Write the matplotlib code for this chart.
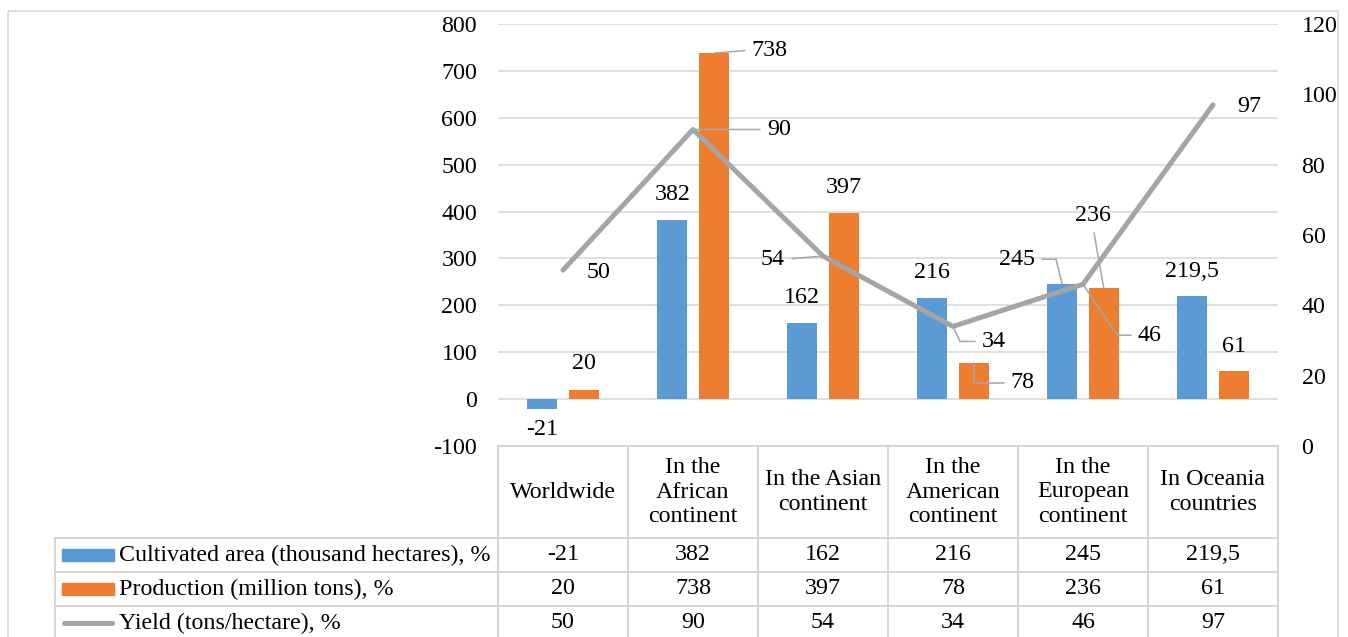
import matplotlib
matplotlib.use("Agg")
import matplotlib.pyplot as plt
import matplotlib.transforms as mtransforms
from matplotlib.patches import Rectangle
from matplotlib.lines import Line2D

plt.rcParams["font.family"] = ["Liberation Serif", "DejaVu Serif"]
plt.rcParams["font.size"] = 17.3
plt.rcParams["axes.unicode_minus"] = False

# data
categories = ["Worldwide", "In the\nAfrican\ncontinent", "In the Asian\ncontinent",
              "In the\nAmerican\ncontinent", "In the\nEuropean\ncontinent", "In Oceania\ncountries"]
series_names = ["Cultivated area (thousand hectares), %",
                "Production (million tons), %",
                "Yield (tons/hectare), %"]
area = [-21, 382, 162, 216, 245, 219.5]
production = [20, 738, 397, 78, 236, 61]
yield_pct = [50, 90, 54, 34, 46, 97]

BLUE = "#5B9BD5"
ORANGE = "#ED7D31"
GRAY = "#A5A5A5"
GRID = "#D9D9D9"
LEADER = "#A6A6A6"

W, H = 1348, 637
FS = 17.3


def fmt(v):
    return f"{v:g}".replace(".", ",")


# label placement (offset pixels, leader style) - layout only
area_lbl = [(0, -21, None), (0, 25, None), (0, 26, None), (0, 25, None),
            (-45, 25, ("angle,angleA=0,angleB=104,rad=0", (1, 0.5))), (0, 25, None)]
prod_lbl = [(0, 26, None), (56, 3, ("arc3", (0, 0.5))), (0, 25, None),
            (49, -20, ("angle,angleA=0,angleB=90,rad=0", (0, 0.5))),
            (-11, 73, ("arc3", (0.5, 0))), (0, 24, None)]
yield_lbl = [(35, -2, None), (86, 0, ("arc3", (0, 0.5))), (-50, -3, ("arc3", (1, 0.5))),
             (41, -15, ("angle,angleA=0,angleB=-65,rad=0", (0, 0.5))),
             (67, -51, ("angle,angleA=0,angleB=-56,rad=0", (0, 0.5))), (36, -2, None)]


def label(axis, x, y, text, spec):
    dx, dy, leader = spec
    kw = dict(textcoords="offset pixels", ha="center", va="center", fontsize=FS)
    if leader is not None:
        style, rel = leader
        kw["arrowprops"] = dict(arrowstyle="-", color=LEADER, lw=1.1,
                                connectionstyle=style, relpos=rel,
                                shrinkA=3, shrinkB=0)
    axis.annotate(text, xy=(x, y), xytext=(dx, dy), **kw)


fig = plt.figure(figsize=(W / 100, H / 100), dpi=100)

# overlay in pixel coords for the frame and data table
tab = fig.add_axes([0, 0, 1, 1])
tab.set_xlim(0, W)
tab.set_ylim(H, 0)
tab.axis("off")

ax = fig.add_axes([498 / W, 1 - 446 / H, 780 / W, (446 - 24) / H])
ax.patch.set_visible(False)
x = list(range(len(categories)))
off, bw = 0.16, 0.235
ax.bar([i - off for i in x], area, bw, color=BLUE, zorder=2)
ax.bar([i + off for i in x], production, bw, color=ORANGE, zorder=2)
ax.set_xlim(-0.5, len(categories) - 0.5)
ax.set_ylim(-100, 800)
ax.set_yticks(range(-100, 801, 100))
ax.set_xticks([])
ax.yaxis.grid(True, color=GRID, lw=1.2)
ax.set_axisbelow(True)
ax.tick_params(axis="y", length=0, pad=15)
for s in ax.spines.values():
    s.set_visible(False)

ax2 = ax.twinx()
ax2.plot(x, yield_pct, color=GRAY, lw=3.6, solid_capstyle="round",
         solid_joinstyle="round", zorder=3)
ax2.set_ylim(0, 120)
ax2.set_yticks(range(0, 121, 20))
ax2.tick_params(axis="y", length=0, pad=17)
for s in ax2.spines.values():
    s.set_visible(False)

for i in x:
    label(ax, i - off, area[i], fmt(area[i]), area_lbl[i])
    label(ax, i + off, production[i], fmt(production[i]), prod_lbl[i])
    label(ax2, i, yield_pct[i], fmt(yield_pct[i]), yield_lbl[i])

# outer chart frame
tab.add_patch(Rectangle((8, 11), 1330, 660, fill=False, edgecolor=GRID, lw=1.2))

# data table
blend = mtransforms.blended_transform_factory(ax.transData, tab.transData)
hdr_top, hdr_bot = 446, 538
row_edges = [538, 572, 606, 640]
lab_left = 55
tcol = "#D0D0D0"
for i in range(len(categories) + 1):
    tab.plot([i - 0.5, i - 0.5], [hdr_top, 645], color=tcol, lw=1.2, transform=blend)
tab.plot([lab_left, lab_left], [hdr_bot, 645], color=tcol, lw=1.2)
tab.plot([-0.5, len(categories) - 0.5], [hdr_top, hdr_top], color=tcol, lw=1.2, transform=blend)
for y in row_edges:
    tab.plot([lab_left, 1278], [y, y], color=tcol, lw=1.2)

for i, c in enumerate(categories):
    tab.text(i, (hdr_top + hdr_bot) / 2, c, ha="center", va="center",
             linespacing=1.22, transform=blend)

rows = [area, production, yield_pct]
for r, (name, vals) in enumerate(zip(series_names, rows)):
    yc = (row_edges[r] + row_edges[r + 1]) / 2
    if r == 0:
        tab.add_patch(Rectangle((62, yc - 6), 52, 12, color=BLUE))
    elif r == 1:
        tab.add_patch(Rectangle((62, yc - 6), 52, 12, color=ORANGE))
    else:
        tab.add_line(Line2D([64, 112], [yc, yc], color=GRAY, lw=3.6, solid_capstyle="round"))
    tab.text(119, yc, name, ha="left", va="center")
    for i, v in enumerate(vals):
        tab.text(i, yc, fmt(v), ha="center", va="center", transform=blend)

fig.savefig("out.png", dpi=100, facecolor="white")
